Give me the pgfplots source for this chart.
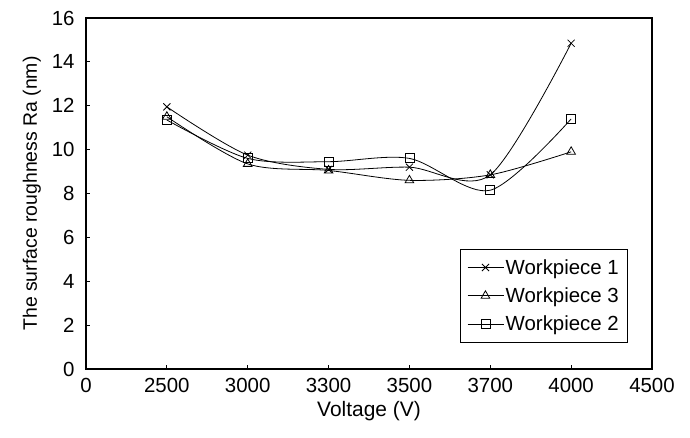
\documentclass[border=0pt]{standalone}
\usepackage{pgfplots}
\pgfplotsset{compat=1.18}
\usepackage{fontspec}
\setmainfont{Liberation Sans}
\begin{document}
\begin{tikzpicture}
\begin{axis}[
  name=ax,
  scale only axis,
  width=566bp, height=351bp,
  xmin=0, xmax=7, ymin=0, ymax=16,
  xtick={0,1,2,3,4,5,6,7},
  xticklabels={0,2500,3000,3300,3500,3700,4000,4500},
  ytick={0,2,...,16},
  tick align=inside,
  xtick pos=bottom, ytick pos=left,
  major tick length=4bp,
  axis line style={line width=1.1bp},
  tick style={line width=0.8bp, black},
  /pgf/number format/assume math mode=true,
  ticklabel style={font=\fontsize{20.5}{23}\selectfont},
  xticklabel style={yshift=-6bp},
  yticklabel style={xshift=-8bp},
  xlabel={Voltage (V)},
  ylabel={The surface roughness Ra (nm)},
  xlabel style={font=\fontsize{21}{24}\selectfont, yshift=-2bp},
  ylabel style={font=\fontsize{19.5}{23}\selectfont, yshift=4bp},
  legend style={at={(0.958,0.342)}, anchor=north east, draw=black, line width=0.8bp,
    font=\fontsize{20.5}{24}\selectfont, row sep=8bp, inner xsep=7bp, inner ysep=8bp},
  legend cell align=left,
  legend image code/.code={
    \draw[mark repeat=2,mark phase=2] plot coordinates {(0cm,0cm) (0.63cm,0cm) (1.26cm,0cm)};
  },
  every axis plot/.append style={black, line width=0.8bp, smooth, tension=0.5,
    mark options={solid, fill=white, line width=0.8bp}},
]
\addplot[mark=x, mark size=5bp] coordinates {(1,11.95) (2,9.75) (3,9.1) (4,9.2) (5,8.85) (6,14.85)};
\addlegendentry{Workpiece 1}
\addplot[mark=triangle, mark size=5bp] coordinates {(1,11.5) (2,9.35) (3,9.05) (4,8.6) (5,8.85) (6,9.9)};
\addlegendentry{Workpiece 3}
\addplot[mark=square, mark size=4.5bp] coordinates {(1,11.35) (2,9.6) (3,9.45) (4,9.6) (5,8.15) (6,11.4)};
\addlegendentry{Workpiece 2}
\end{axis}
\path ([shift={(-86bp,-69bp)}]ax.south west) rectangle ([shift={(38bp,18bp)}]ax.north east);
\end{tikzpicture}
\end{document}
